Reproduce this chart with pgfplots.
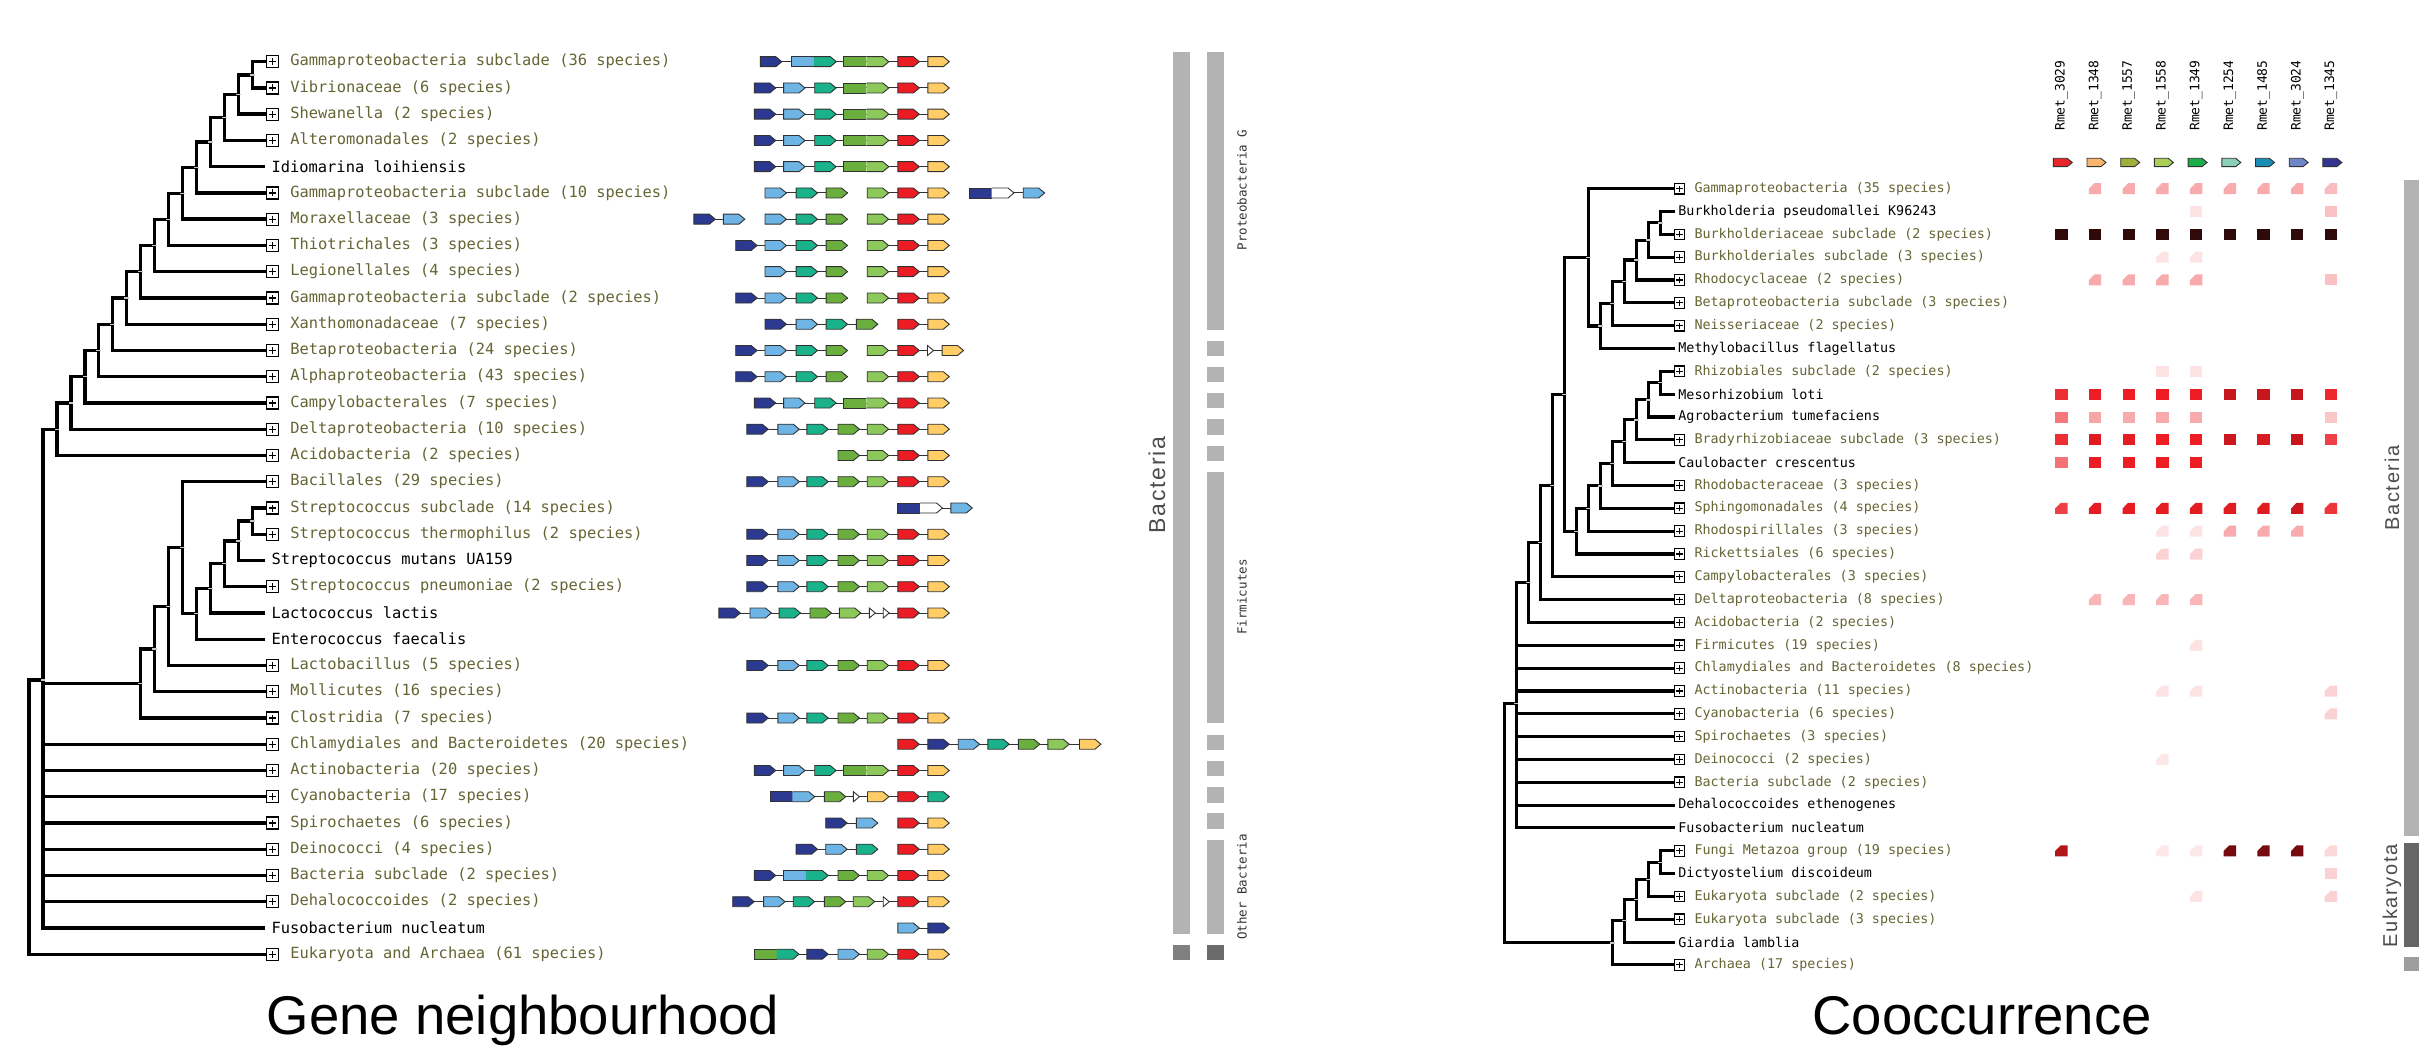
\documentclass[border=0pt]{standalone}
\usepackage{pgfplots}
\pgfplotsset{compat=1.18}
\usepackage{fontspec}
\setmainfont{Liberation Sans}
\newfontfamily\monof{DejaVu Sans Mono}
\newfontfamily\spacedsans[LetterSpace=8]{Liberation Sans}
\definecolor{cN}{RGB}{43,57,144}
\definecolor{cB}{RGB}{110,180,228}
\definecolor{cT}{RGB}{25,178,138}
\definecolor{cD}{RGB}{106,174,62}
\definecolor{cL}{RGB}{140,200,90}
\definecolor{cR}{RGB}{236,28,36}
\definecolor{cY}{RGB}{255,204,102}
\definecolor{gk}{RGB}{50,50,50}
\definecolor{olive}{RGB}{100,100,52}
\definecolor{barg}{RGB}{179,179,179}
\definecolor{h0}{RGB}{232,38,42}
\definecolor{h1}{RGB}{249,181,107}
\definecolor{h2}{RGB}{160,174,58}
\definecolor{h3}{RGB}{169,207,90}
\definecolor{h4}{RGB}{26,174,75}
\definecolor{h5}{RGB}{137,208,182}
\definecolor{h6}{RGB}{26,141,181}
\definecolor{h7}{RGB}{108,134,198}
\definecolor{h8}{RGB}{51,51,145}
% gene arrow (single)
\pgfdeclareplotmark{ga}{%
 \pgfpathmoveto{\pgfqpoint{-10.7pt}{-5pt}}\pgfpathlineto{\pgfqpoint{4.7pt}{-5pt}}%
 \pgfpathlineto{\pgfqpoint{10.7pt}{0pt}}\pgfpathlineto{\pgfqpoint{4.7pt}{5pt}}%
 \pgfpathlineto{\pgfqpoint{-10.7pt}{5pt}}\pgfpathclose\pgfusepathqfillstroke}
% double gene, left part
\pgfdeclareplotmark{gr}{%
 \pgfpathrectangle{\pgfqpoint{-11.2pt}{-5pt}}{\pgfqpoint{22.6pt}{10pt}}\pgfusepathqfill
 \pgfpathmoveto{\pgfqpoint{11.2pt}{5pt}}\pgfpathlineto{\pgfqpoint{-11.2pt}{5pt}}%
 \pgfpathlineto{\pgfqpoint{-11.2pt}{-5pt}}\pgfpathlineto{\pgfqpoint{11.2pt}{-5pt}}\pgfusepathqstroke}
% double gene, right part
\pgfdeclareplotmark{gb}{%
 \pgfpathmoveto{\pgfqpoint{-11.2pt}{-5pt}}\pgfpathlineto{\pgfqpoint{5.2pt}{-5pt}}%
 \pgfpathlineto{\pgfqpoint{11.2pt}{0pt}}\pgfpathlineto{\pgfqpoint{5.2pt}{5pt}}%
 \pgfpathlineto{\pgfqpoint{-11.2pt}{5pt}}\pgfpathclose\pgfusepathqfill
 \pgfpathmoveto{\pgfqpoint{-11.2pt}{-5pt}}\pgfpathlineto{\pgfqpoint{5.2pt}{-5pt}}%
 \pgfpathlineto{\pgfqpoint{11.2pt}{0pt}}\pgfpathlineto{\pgfqpoint{5.2pt}{5pt}}%
 \pgfpathlineto{\pgfqpoint{-11.2pt}{5pt}}\pgfusepathqstroke}
% small white triangle
\pgfdeclareplotmark{gt}{%
 \pgfpathmoveto{\pgfqpoint{-3pt}{-5pt}}\pgfpathlineto{\pgfqpoint{3pt}{0pt}}%
 \pgfpathlineto{\pgfqpoint{-3pt}{5pt}}\pgfpathclose\pgfusepathqfillstroke}
% boxed plus
\pgfdeclareplotmark{bpl}{%
 \pgfpathrectangle{\pgfqpoint{-6pt}{-6pt}}{\pgfqpoint{12pt}{12pt}}\pgfusepathqfillstroke
 \pgfpathmoveto{\pgfqpoint{-3.5pt}{0pt}}\pgfpathlineto{\pgfqpoint{3.5pt}{0pt}}%
 \pgfpathmoveto{\pgfqpoint{0pt}{-3.5pt}}\pgfpathlineto{\pgfqpoint{0pt}{3.5pt}}\pgfusepathqstroke}
\pgfdeclareplotmark{bpr}{%
 \pgfpathrectangle{\pgfqpoint{-5.3pt}{-5.3pt}}{\pgfqpoint{10.6pt}{10.6pt}}\pgfusepathqfillstroke
 \pgfpathmoveto{\pgfqpoint{-3.1pt}{0pt}}\pgfpathlineto{\pgfqpoint{3.1pt}{0pt}}%
 \pgfpathmoveto{\pgfqpoint{0pt}{-3.1pt}}\pgfpathlineto{\pgfqpoint{0pt}{3.1pt}}\pgfusepathqstroke}
% heat cells
\pgfdeclareplotmark{hs}{%
 \pgfpathrectangle{\pgfqpoint{-6.2pt}{-5.5pt}}{\pgfqpoint{12.4pt}{11pt}}\pgfusepathqfill}
\pgfdeclareplotmark{hc}{%
 \pgfpathmoveto{\pgfqpoint{-6.2pt}{-5.5pt}}\pgfpathlineto{\pgfqpoint{6.2pt}{-5.5pt}}%
 \pgfpathlineto{\pgfqpoint{6.2pt}{5.5pt}}\pgfpathlineto{\pgfqpoint{-0.6pt}{5.5pt}}%
 \pgfpathlineto{\pgfqpoint{-6.2pt}{-0.2pt}}\pgfpathclose\pgfusepathqfill}
% header arrow
\pgfdeclareplotmark{ha}{%
 \pgfpathmoveto{\pgfqpoint{-9.5pt}{-4.2pt}}\pgfpathlineto{\pgfqpoint{4.3pt}{-4.2pt}}%
 \pgfpathlineto{\pgfqpoint{9.5pt}{0pt}}\pgfpathlineto{\pgfqpoint{4.3pt}{4.2pt}}%
 \pgfpathlineto{\pgfqpoint{-9.5pt}{4.2pt}}\pgfpathclose\pgfusepathqfillstroke}

\pgfplotsset{
 genecls/.style={scatter, only marks, point meta=explicit symbolic,
  scatter/classes={
   N={draw=gk,fill=cN,line width=0.9pt},
   B={draw=gk,fill=cB,line width=0.9pt},
   T={draw=gk,fill=cT,line width=0.9pt},
   D={draw=gk,fill=cD,line width=0.9pt},
   L={draw=gk,fill=cL,line width=0.9pt},
   R={draw=gk,fill=cR,line width=0.9pt},
   Y={draw=gk,fill=cY,line width=0.9pt},
   W={draw=gk,fill=white,line width=0.9pt}}},
 heatcls/.style={scatter, only marks, point meta=explicit, point meta min=0, point meta max=7,
   scatter/use mapped color={draw=none, fill=mapped color}},
 lab/.style={draw=none, nodes near coords, point meta=explicit symbolic,
   every node near coord/.append style={anchor=west, inner sep=0pt, #1}},
}

\begin{document}
\begin{tikzpicture}
\begin{axis}[
  width=2419pt, height=1059pt, scale only axis,
  xmin=0, xmax=2419, ymin=0, ymax=1059, y dir=reverse,
  hide axis, clip=false, unbounded coords=jump,
  colormap={heat}{rgb255(0cm)=(255,255,255); rgb255(4cm)=(236,30,36); rgb255(6cm)=(105,8,12); rgb255(7cm)=(40,10,10)},
]
%================ LEFT TREE =================
\addplot[black, line width=3.4pt, line cap=rect, line join=miter] coordinates {
(266.5,61.7)(252.2,61.7)(252.2,88.0)(266.5,88.0)(nan,nan)
(252.2,74.85)(238.25,74.85)(238.25,114.2)(266.5,114.2)(nan,nan)
(238.25,94.53)(224.3,94.53)(224.3,140.5)(266.5,140.5)(nan,nan)
(224.3,117.51)(210.35,117.51)(210.35,166.7)(263.4,166.7)(nan,nan)
(210.35,142.1)(196.4,142.1)(196.4,193.0)(266.5,193.0)(nan,nan)
(196.4,167.55)(182.45,167.55)(182.45,219.2)(266.5,219.2)(nan,nan)
(182.45,193.38)(168.5,193.38)(168.5,245.5)(266.5,245.5)(nan,nan)
(168.5,219.44)(154.55,219.44)(154.55,271.7)(266.5,271.7)(nan,nan)
(154.55,245.57)(140.6,245.57)(140.6,298.0)(266.5,298.0)(nan,nan)
(140.6,271.78)(126.65,271.78)(126.65,324.2)(266.5,324.2)(nan,nan)
(126.65,297.99)(112.7,297.99)(112.7,350.5)(266.5,350.5)(nan,nan)
(112.7,324.25)(98.75,324.25)(98.75,376.7)(266.5,376.7)(nan,nan)
(98.75,350.47)(84.8,350.47)(84.8,403.0)(266.5,403.0)(nan,nan)
(84.8,376.74)(70.85,376.74)(70.85,429.2)(266.5,429.2)(nan,nan)
(70.85,402.97)(56.9,402.97)(56.9,455.5)(266.5,455.5)(nan,nan)
(266.5,508.0)(252.2,508.0)(252.2,534.2)(266.5,534.2)(nan,nan)
(252.2,521.1)(238.25,521.1)(238.25,560.5)(263.4,560.5)(nan,nan)
(238.25,540.8)(224.3,540.8)(224.3,586.7)(266.5,586.7)(nan,nan)
(224.3,563.75)(210.35,563.75)(210.35,613.0)(263.4,613.0)(nan,nan)
(210.35,588.38)(196.4,588.38)(196.4,639.2)(263.4,639.2)(nan,nan)
(266.5,481.7)(182.45,481.7)(182.45,613.79)(196.4,613.79)(nan,nan)
(182.45,547.75)(168.5,547.75)(168.5,665.5)(266.5,665.5)(nan,nan)
(168.5,606.63)(154.55,606.63)(154.55,691.7)(266.5,691.7)(nan,nan)
(154.55,649.17)(140.6,649.17)(140.6,718.0)(266.5,718.0)(nan,nan)
(56.9,429.23)(42.95,429.23)(42.95,928.0)(263.4,928.0)(nan,nan)
(42.95,683.58)(140.6,683.58)(nan,nan)
(42.95,744.2)(266.5,744.2)(nan,nan)
(42.95,770.5)(266.5,770.5)(nan,nan)
(42.95,796.7)(266.5,796.7)(nan,nan)
(42.95,823.0)(266.5,823.0)(nan,nan)
(42.95,849.2)(266.5,849.2)(nan,nan)
(42.95,875.5)(266.5,875.5)(nan,nan)
(42.95,901.7)(266.5,901.7)(nan,nan)
(42.95,680)(29.0,680)(29.0,954.2)(266.5,954.2)
};
%================ RIGHT TREE =================
\addplot[black, line width=3.1pt, line cap=rect, line join=miter] coordinates {
(1673,211.5)(1660.62,211.5)(1660.62,234.4)(1674,234.4)(nan,nan)
(1660.62,222.95)(1648.58,222.95)(1648.58,257.2)(1674,257.2)(nan,nan)
(1648.58,240.08)(1636.54,240.08)(1636.54,280.0)(1674,280.0)(nan,nan)
(1636.54,260.04)(1624.5,260.04)(1624.5,302.9)(1674,302.9)(nan,nan)
(1624.5,281.47)(1612.46,281.47)(1612.46,325.7)(1674,325.7)(nan,nan)
(1612.46,303.59)(1600.42,303.59)(1600.42,348.5)(1673,348.5)(nan,nan)
(1674,188.7)(1588.38,188.7)(1588.38,326.04)(1600.42,326.04)(nan,nan)
(1674,371.3)(1660.62,371.3)(1660.62,394.2)(1673,394.2)(nan,nan)
(1660.62,382.75)(1648.58,382.75)(1648.58,417.0)(1673,417.0)(nan,nan)
(1648.58,399.88)(1636.54,399.88)(1636.54,439.8)(1674,439.8)(nan,nan)
(1636.54,419.84)(1624.5,419.84)(1624.5,462.7)(1673,462.7)(nan,nan)
(1624.5,441.27)(1612.46,441.27)(1612.46,485.5)(1674,485.5)(nan,nan)
(1612.46,463.39)(1600.42,463.39)(1600.42,508.3)(1674,508.3)(nan,nan)
(1600.42,485.85)(1588.38,485.85)(1588.38,531.2)(1674,531.2)(nan,nan)
(1588.38,508.58)(1576.34,508.58)(1576.34,554.0)(1674,554.0)(nan,nan)
(1588.38,257.37)(1564.3,257.37)(1564.3,531.29)(1576.34,531.29)(nan,nan)
(1564.3,394.33)(1552.26,394.33)(1552.26,576.8)(1674,576.8)(nan,nan)
(1552.26,485.57)(1540.22,485.57)(1540.22,599.6)(1674,599.6)(nan,nan)
(1540.22,542.58)(1528.18,542.58)(1528.18,622.5)(1674,622.5)(nan,nan)
(1528.18,582.54)(1516.14,582.54)(1516.14,827.9)(1673,827.9)(nan,nan)
(1516.14,645.3)(1674,645.3)(nan,nan)
(1516.14,668.1)(1674,668.1)(nan,nan)
(1516.14,691.0)(1674,691.0)(nan,nan)
(1516.14,713.8)(1674,713.8)(nan,nan)
(1516.14,736.6)(1674,736.6)(nan,nan)
(1516.14,759.5)(1674,759.5)(nan,nan)
(1516.14,782.3)(1674,782.3)(nan,nan)
(1516.14,805.1)(1673,805.1)(nan,nan)
(1674,850.8)(1660.62,850.8)(1660.62,873.6)(1673,873.6)(nan,nan)
(1660.62,862.2)(1648.58,862.2)(1648.58,896.4)(1674,896.4)(nan,nan)
(1648.58,879.3)(1636.54,879.3)(1636.54,919.3)(1674,919.3)(nan,nan)
(1636.54,899.35)(1624.5,899.35)(1624.5,942.1)(1673,942.1)(nan,nan)
(1624.5,920.73)(1612.46,920.73)(1612.46,964.9)(1674,964.9)(nan,nan)
(1516.14,703.3)(1504.1,703.3)(1504.1,942.8)(1612.46,942.8)
};
% node dashes
\addplot[only marks, mark=-, mark size=2.3pt, color=gray!45, line width=1.4pt] coordinates {
(252.2,74.85)(238.25,94.53)(224.3,117.51)(210.35,142.1)(196.4,167.55)(182.45,193.38)(168.5,219.44)
(154.55,245.57)(140.6,271.78)(126.65,297.99)(112.7,324.25)(98.75,350.47)(84.8,376.74)(70.85,402.97)
(56.9,429.23)(252.2,521.1)(238.25,540.8)(224.3,563.75)(210.35,588.38)(196.4,613.79)(182.45,547.75)
(168.5,606.63)(154.55,649.17)(140.6,683.58)(42.95,680)
(1660.62,222.95)(1648.58,240.08)(1636.54,260.04)(1624.5,281.47)(1612.46,303.59)(1600.42,326.04)
(1588.38,257.37)(1660.62,382.75)(1648.58,399.88)(1636.54,419.84)(1624.5,441.27)(1612.46,463.39)
(1600.42,485.85)(1588.38,508.58)(1576.34,531.29)(1564.3,394.33)(1552.26,485.57)(1540.22,542.58)
(1528.18,582.54)(1516.14,703.3)(1660.62,862.2)(1648.58,879.3)(1636.54,899.35)(1624.5,920.73)(1612.46,942.8)
};
% boxes
\addplot[only marks, mark=bpl, mark options={draw=black, fill=white, line width=1.2pt}] coordinates {
(272.8,61.7)(272.8,88.0)(272.8,114.2)(272.8,140.5)(272.8,193.0)(272.8,219.2)(272.8,245.5)(272.8,271.7)
(272.8,298.0)(272.8,324.2)(272.8,350.5)(272.8,376.7)(272.8,403.0)(272.8,429.2)(272.8,455.5)(272.8,481.7)
(272.8,508.0)(272.8,534.2)(272.8,586.7)(272.8,665.5)(272.8,691.7)(272.8,718.0)(272.8,744.2)(272.8,770.5)
(272.8,796.7)(272.8,823.0)(272.8,849.2)(272.8,875.5)(272.8,901.7)(272.8,954.2)
};
\addplot[only marks, mark=bpr, mark options={draw=black, fill=white, line width=1.1pt}] coordinates {
(1679.4,188.7)(1679.4,234.4)(1679.4,257.2)(1679.4,280.0)(1679.4,302.9)(1679.4,325.7)(1679.4,371.3)
(1679.4,439.8)(1679.4,485.5)(1679.4,508.3)(1679.4,531.2)(1679.4,554.0)(1679.4,576.8)(1679.4,599.6)
(1679.4,622.5)(1679.4,645.3)(1679.4,668.1)(1679.4,691.0)(1679.4,713.8)(1679.4,736.6)(1679.4,759.5)
(1679.4,782.3)(1679.4,850.8)(1679.4,896.4)(1679.4,919.3)(1679.4,964.9)
};
%================ LEFT LABELS =================
\addplot[lab={font=\monof\fontsize{15.4}{17}\selectfont, text=olive}] table[row sep=\\, col sep=comma, x=x, y=y, meta=l] {
x,y,l\\
290.2,61.7,Gammaproteobacteria subclade (36 species)\\
290.2,88.0,Vibrionaceae (6 species)\\
290.2,114.2,Shewanella (2 species)\\
290.2,140.5,Alteromonadales (2 species)\\
290.2,193.0,Gammaproteobacteria subclade (10 species)\\
290.2,219.2,Moraxellaceae (3 species)\\
290.2,245.5,Thiotrichales (3 species)\\
290.2,271.7,Legionellales (4 species)\\
290.2,298.0,Gammaproteobacteria subclade (2 species)\\
290.2,324.2,Xanthomonadaceae (7 species)\\
290.2,350.5,Betaproteobacteria (24 species)\\
290.2,376.7,Alphaproteobacteria (43 species)\\
290.2,403.0,Campylobacterales (7 species)\\
290.2,429.2,Deltaproteobacteria (10 species)\\
290.2,455.5,Acidobacteria (2 species)\\
290.2,481.7,Bacillales (29 species)\\
290.2,508.0,Streptococcus subclade (14 species)\\
290.2,534.2,Streptococcus thermophilus (2 species)\\
290.2,586.7,Streptococcus pneumoniae (2 species)\\
290.2,665.5,Lactobacillus (5 species)\\
290.2,691.7,Mollicutes (16 species)\\
290.2,718.0,Clostridia (7 species)\\
290.2,744.2,Chlamydiales and Bacteroidetes (20 species)\\
290.2,770.5,Actinobacteria (20 species)\\
290.2,796.7,Cyanobacteria (17 species)\\
290.2,823.0,Spirochaetes (6 species)\\
290.2,849.2,Deinococci (4 species)\\
290.2,875.5,Bacteria subclade (2 species)\\
290.2,901.7,Dehalococcoides (2 species)\\
290.2,954.2,Eukaryota and Archaea (61 species)\\
};
\addplot[lab={font=\monof\fontsize{15.4}{17}\selectfont, text=black}] table[row sep=\\, col sep=comma, x=x, y=y, meta=l] {
x,y,l\\
271.4,166.7,Idiomarina loihiensis\\
271.4,560.5,Streptococcus mutans UA159\\
271.4,613.0,Lactococcus lactis\\
271.4,639.2,Enterococcus faecalis\\
271.4,928.0,Fusobacterium nucleatum\\
};
%================ RIGHT LABELS =================
\addplot[lab={font=\monof\fontsize{13.4}{15}\selectfont, text=olive}] table[row sep=\\, col sep=comma, x=x, y=y, meta=l] {
x,y,l\\
1694.3,188.7,Gammaproteobacteria (35 species)\\
1694.3,234.4,Burkholderiaceae subclade (2 species)\\
1694.3,257.2,Burkholderiales subclade (3 species)\\
1694.3,280.0,Rhodocyclaceae (2 species)\\
1694.3,302.9,Betaproteobacteria subclade (3 species)\\
1694.3,325.7,Neisseriaceae (2 species)\\
1694.3,371.3,Rhizobiales subclade (2 species)\\
1694.3,439.8,Bradyrhizobiaceae subclade (3 species)\\
1694.3,485.5,Rhodobacteraceae (3 species)\\
1694.3,508.3,Sphingomonadales (4 species)\\
1694.3,531.2,Rhodospirillales (3 species)\\
1694.3,554.0,Rickettsiales (6 species)\\
1694.3,576.8,Campylobacterales (3 species)\\
1694.3,599.6,Deltaproteobacteria (8 species)\\
1694.3,622.5,Acidobacteria (2 species)\\
1694.3,645.3,Firmicutes (19 species)\\
1694.3,668.1,Chlamydiales and Bacteroidetes (8 species)\\
1694.3,691.0,Actinobacteria (11 species)\\
1694.3,713.8,Cyanobacteria (6 species)\\
1694.3,736.6,Spirochaetes (3 species)\\
1694.3,759.5,Deinococci (2 species)\\
1694.3,782.3,Bacteria subclade (2 species)\\
1694.3,850.8,Fungi Metazoa group (19 species)\\
1694.3,896.4,Eukaryota subclade (2 species)\\
1694.3,919.3,Eukaryota subclade (3 species)\\
1694.3,964.9,Archaea (17 species)\\
};
\addplot[lab={font=\monof\fontsize{13.4}{15}\selectfont, text=black}] table[row sep=\\, col sep=comma, x=x, y=y, meta=l] {
x,y,l\\
1678.2,211.5,Burkholderia pseudomallei K96243\\
1678.2,348.5,Methylobacillus flagellatus\\
1678.2,394.2,Mesorhizobium loti\\
1678.2,417.0,Agrobacterium tumefaciens\\
1678.2,462.7,Caulobacter crescentus\\
1678.2,805.1,Dehalococcoides ethenogenes\\
1678.2,827.9,Fusobacterium nucleatum\\
1678.2,873.6,Dictyostelium discoideum\\
1678.2,942.1,Giardia lamblia\\
};
%================ GENE BACKBONES =================
\addplot[gk, line width=1pt] coordinates {
(760.4,61.7)(949.3,61.7)(nan,nan)
(754.3,88.0)(949.3,88.0)(nan,nan)
(754.3,114.2)(949.3,114.2)(nan,nan)
(754.3,140.5)(949.3,140.5)(nan,nan)
(754.3,166.7)(949.3,166.7)(nan,nan)
(765,193.0)(847.5,193.0)(nan,nan)(867.2,193.0)(949.3,193.0)(nan,nan)(969.3,193.0)(1044.6,193.0)(nan,nan)
(693.9,219.2)(744.8,219.2)(nan,nan)(765,219.2)(847.5,219.2)(nan,nan)(867.2,219.2)(949.3,219.2)(nan,nan)
(735.7,245.5)(847.5,245.5)(nan,nan)(867.2,245.5)(949.3,245.5)(nan,nan)
(765,271.7)(847.5,271.7)(nan,nan)(867.2,271.7)(949.3,271.7)(nan,nan)
(735.7,298.0)(847.5,298.0)(nan,nan)(867.2,298.0)(949.3,298.0)(nan,nan)
(765,324.2)(877.8,324.2)(nan,nan)(897.9,324.2)(949.3,324.2)(nan,nan)
(735.7,350.5)(847.5,350.5)(nan,nan)(867.2,350.5)(963.5,350.5)(nan,nan)
(735.7,376.7)(847.5,376.7)(nan,nan)(867.2,376.7)(949.3,376.7)(nan,nan)
(754.3,403.0)(949.3,403.0)(nan,nan)
(746.8,429.2)(949.3,429.2)(nan,nan)
(838,455.5)(949.3,455.5)(nan,nan)
(746.8,481.7)(949.3,481.7)(nan,nan)
(897.8,508.0)(972.3,508.0)(nan,nan)
(746.8,534.2)(949.3,534.2)(nan,nan)
(746.8,560.5)(949.3,560.5)(nan,nan)
(746.8,586.7)(949.3,586.7)(nan,nan)
(718.9,613.0)(949.3,613.0)(nan,nan)
(746.8,665.5)(949.3,665.5)(nan,nan)
(746.8,718.0)(949.3,718.0)(nan,nan)
(897.9,744.2)(1100.9,744.2)(nan,nan)
(754.3,770.5)(949.3,770.5)(nan,nan)
(770,796.7)(949.3,796.7)(nan,nan)
(825.7,823.0)(877.8,823.0)(nan,nan)(897.9,823.0)(949.3,823.0)(nan,nan)
(796.1,849.2)(877.8,849.2)(nan,nan)(897.9,849.2)(949.3,849.2)(nan,nan)
(754.3,875.5)(949.3,875.5)(nan,nan)
(732.7,901.7)(949.3,901.7)(nan,nan)
(897.9,928.0)(949.3,928.0)(nan,nan)
(754.3,954.2)(949.3,954.2)
};
%================ GENES =================
\addplot[genecls, mark=ga] table[row sep=\\, col sep=comma, x=x, y=y, meta=c] {
x,y,c\\
771.1,61.7,N\\908.6,61.7,R\\938.6,61.7,Y\\
765,88.0,N\\794.3,88.0,B\\825.4,88.0,T\\908.6,88.0,R\\938.6,88.0,Y\\
765,114.2,N\\794.3,114.2,B\\825.4,114.2,T\\908.6,114.2,R\\938.6,114.2,Y\\
765,140.5,N\\794.3,140.5,B\\825.4,140.5,T\\908.6,140.5,R\\938.6,140.5,Y\\
765,166.7,N\\794.3,166.7,B\\825.4,166.7,T\\908.6,166.7,R\\938.6,166.7,Y\\
775.7,193.0,B\\806.8,193.0,T\\836.8,193.0,D\\877.9,193.0,L\\908.6,193.0,R\\938.6,193.0,Y\\1033.9,193.0,B\\
704.6,219.2,N\\734.1,219.2,B\\775.7,219.2,B\\806.8,219.2,T\\836.8,219.2,D\\877.9,219.2,L\\908.6,219.2,R\\938.6,219.2,Y\\
746.4,245.5,N\\775.7,245.5,B\\806.8,245.5,T\\836.8,245.5,D\\877.9,245.5,L\\908.6,245.5,R\\938.6,245.5,Y\\
775.7,271.7,B\\806.8,271.7,T\\836.8,271.7,D\\877.9,271.7,L\\908.6,271.7,R\\938.6,271.7,Y\\
746.4,298.0,N\\775.7,298.0,B\\806.8,298.0,T\\836.8,298.0,D\\877.9,298.0,L\\908.6,298.0,R\\938.6,298.0,Y\\
775.7,324.2,N\\806.8,324.2,B\\836.8,324.2,T\\867.1,324.2,D\\908.6,324.2,R\\938.6,324.2,Y\\
746.4,350.5,N\\775.7,350.5,B\\806.8,350.5,T\\836.8,350.5,D\\877.9,350.5,L\\908.6,350.5,R\\952.8,350.5,Y\\
746.4,376.7,N\\775.7,376.7,B\\806.8,376.7,T\\836.8,376.7,D\\877.9,376.7,L\\908.6,376.7,R\\938.6,376.7,Y\\
765,403.0,N\\794.3,403.0,B\\825.4,403.0,T\\908.6,403.0,R\\938.6,403.0,Y\\
757.5,429.2,N\\788.6,429.2,B\\817.5,429.2,T\\848.7,429.2,D\\877.9,429.2,L\\908.6,429.2,R\\938.6,429.2,Y\\
848.7,455.5,D\\877.9,455.5,L\\908.6,455.5,R\\938.6,455.5,Y\\
757.5,481.7,N\\788.6,481.7,B\\817.5,481.7,T\\848.7,481.7,D\\877.9,481.7,L\\908.6,481.7,R\\938.6,481.7,Y\\
961.6,508.0,B\\
757.5,534.2,N\\788.6,534.2,B\\817.5,534.2,T\\848.7,534.2,D\\877.9,534.2,L\\908.6,534.2,R\\938.6,534.2,Y\\
757.5,560.5,N\\788.6,560.5,B\\817.5,560.5,T\\848.7,560.5,D\\877.9,560.5,L\\908.6,560.5,R\\938.6,560.5,Y\\
757.5,586.7,N\\788.6,586.7,B\\817.5,586.7,T\\848.7,586.7,D\\877.9,586.7,L\\908.6,586.7,R\\938.6,586.7,Y\\
729.6,613.0,N\\760.7,613.0,B\\789.8,613.0,T\\820.7,613.0,D\\850,613.0,L\\908.6,613.0,R\\938.6,613.0,Y\\
757.5,665.5,N\\788.6,665.5,B\\817.5,665.5,T\\848.7,665.5,D\\877.9,665.5,L\\908.6,665.5,R\\938.6,665.5,Y\\
757.5,718.0,N\\788.6,718.0,B\\817.5,718.0,T\\848.7,718.0,D\\877.9,718.0,L\\908.6,718.0,R\\938.6,718.0,Y\\
908.6,744.2,R\\938.6,744.2,N\\968.9,744.2,B\\998.5,744.2,T\\1029.1,744.2,D\\1058.5,744.2,L\\1090.2,744.2,Y\\
765,770.5,N\\794.3,770.5,B\\825.4,770.5,T\\908.6,770.5,R\\938.6,770.5,Y\\
835,796.7,D\\878.2,796.7,Y\\908.6,796.7,R\\938.6,796.7,T\\
836.4,823.0,N\\867.1,823.0,B\\908.6,823.0,R\\938.6,823.0,Y\\
806.8,849.2,N\\836.4,849.2,B\\867.1,849.2,T\\908.6,849.2,R\\938.6,849.2,Y\\
765,875.5,N\\848.7,875.5,D\\877.9,875.5,L\\908.6,875.5,R\\938.6,875.5,Y\\
743.4,901.7,N\\774.3,901.7,B\\803.9,901.7,T\\835,901.7,D\\863.9,901.7,L\\908.6,901.7,R\\938.6,901.7,Y\\
908.6,928.0,B\\938.6,928.0,N\\
817.5,954.2,N\\848.7,954.2,B\\877.9,954.2,L\\908.6,954.2,R\\938.6,954.2,Y\\
};
\addplot[genecls, mark=gr] table[row sep=\\, col sep=comma, x=x, y=y, meta=c] {
x,y,c\\
802.6,61.7,B\\854.9,61.7,D\\
854.9,88.0,D\\854.9,114.2,D\\854.9,140.5,D\\854.9,166.7,D\\854.9,403.0,D\\854.9,770.5,D\\
980.5,193.0,N\\909,508.0,N\\781.2,796.7,N\\794.7,875.5,B\\765.5,954.2,D\\
};
\addplot[genecls, mark=gb] table[row sep=\\, col sep=comma, x=x, y=y, meta=c] {
x,y,c\\
825.1,61.7,T\\877.6,61.7,L\\
877.6,88.0,L\\877.6,114.2,L\\877.6,140.5,L\\877.6,166.7,L\\877.6,403.0,L\\877.6,770.5,L\\
1002.8,193.0,W\\931.3,508.0,W\\803.5,796.7,B\\817,875.5,T\\787.8,954.2,T\\
};
\addplot[genecls, mark=gt] table[row sep=\\, col sep=comma, x=x, y=y, meta=c] {
x,y,c\\
930.5,350.5,W\\872.3,613.0,W\\886.2,613.0,W\\856.4,796.7,W\\886.2,901.7,W\\
};
%================ LEFT BARS =================
\addplot[barg, line width=17.2pt] coordinates {(1181.4,51.7)(1181.4,934)};
\addplot[black!50, line width=17.2pt] coordinates {(1181.4,945)(1181.4,960)};
\addplot[barg, line width=16.8pt] coordinates {
(1215.3,51.7)(1215.3,330)(nan,nan)(1215.3,340.7)(1215.3,356)(nan,nan)(1215.3,367.3)(1215.3,382.3)(nan,nan)
(1215.3,393.3)(1215.3,408.3)(nan,nan)(1215.3,419.3)(1215.3,435)(nan,nan)(1215.3,446)(1215.3,461)(nan,nan)
(1215.3,472.3)(1215.3,723.3)(nan,nan)(1215.3,735)(1215.3,750)(nan,nan)(1215.3,761)(1215.3,776)(nan,nan)
(1215.3,787.3)(1215.3,802.7)(nan,nan)(1215.3,813.3)(1215.3,829)(nan,nan)(1215.3,840)(1215.3,934)
};
\addplot[black!58, line width=16.8pt] coordinates {(1215.3,945)(1215.3,960)};
%================ RIGHT BARS =================
\addplot[barg, line width=14.7pt] coordinates {(2411.7,180)(2411.7,836)};
\addplot[black!60, line width=14.7pt] coordinates {(2411.7,843)(2411.7,947)};
\addplot[black!38, line width=14.7pt] coordinates {(2411.7,957)(2411.7,971)};
%================ HEADER ARROWS =================
\addplot[scatter, only marks, mark=ha, point meta=explicit symbolic,
  scatter/classes={
   a={draw=gk,fill=h0,line width=0.9pt}, b={draw=gk,fill=h1,line width=0.9pt},
   c={draw=gk,fill=h2,line width=0.9pt}, d={draw=gk,fill=h3,line width=0.9pt},
   e={draw=gk,fill=h4,line width=0.9pt}, f={draw=gk,fill=h5,line width=0.9pt},
   g={draw=gk,fill=h6,line width=0.9pt}, h={draw=gk,fill=h7,line width=0.9pt},
   i={draw=gk,fill=h8,line width=0.9pt}}]
 table[row sep=\\, col sep=comma, x=x, y=y, meta=c] {
x,y,c\\
2062.8,162.5,a\\2096.5,162.5,b\\2130.2,162.5,c\\2163.9,162.5,d\\2197.6,162.5,e\\
2231.3,162.5,f\\2265.0,162.5,g\\2298.7,162.5,h\\2332.4,162.5,i\\
};
\addplot[lab={font=\monof\fontsize{13}{14}\selectfont, text=black, rotate=90}] table[row sep=\\, col sep=comma, x=x, y=y, meta=l] {
x,y,l\\
2061.3,131,Rmet\_3029\\2095.0,131,Rmet\_1348\\2128.7,131,Rmet\_1557\\2162.4,131,Rmet\_1558\\
2196.1,131,Rmet\_1349\\2229.8,131,Rmet\_1254\\2263.5,131,Rmet\_1485\\2297.2,131,Rmet\_3024\\
2330.9,131,Rmet\_1345\\
};
%================ HEAT CELLS =================
\addplot[heatcls, mark=hs] table[row sep=\\, col sep=comma, x=x, y=y, meta=v] {
x,y,v\\
2196.1,211.5,0.5\\2330.9,211.5,1.1\\
2061.3,234.4,6.9\\2095.0,234.4,6.9\\2128.7,234.4,6.9\\2162.4,234.4,6.9\\2196.1,234.4,6.9\\2229.8,234.4,6.9\\2263.5,234.4,6.9\\2297.2,234.4,6.9\\2330.9,234.4,6.9\\
2330.9,280.0,1.1\\
2162.4,371.3,0.5\\2196.1,371.3,0.5\\
2061.3,394.2,3.7\\2095.0,394.2,4.0\\2128.7,394.2,4.0\\2162.4,394.2,4.0\\2196.1,394.2,4.0\\2229.8,394.2,4.6\\2263.5,394.2,4.6\\2297.2,394.2,4.6\\2330.9,394.2,3.8\\
2061.3,417.0,2.4\\2095.0,417.0,1.6\\2128.7,417.0,1.5\\2162.4,417.0,1.5\\2196.1,417.0,1.5\\2330.9,417.0,1.0\\
2061.3,439.8,3.7\\2095.0,439.8,4.2\\2128.7,439.8,4.1\\2162.4,439.8,4.0\\2196.1,439.8,4.0\\2229.8,439.8,4.5\\2263.5,439.8,4.3\\2297.2,439.8,4.6\\2330.9,439.8,3.4\\
2061.3,462.7,2.5\\2095.0,462.7,4.0\\2128.7,462.7,4.0\\2162.4,462.7,4.0\\2196.1,462.7,4.0\\
2330.9,873.6,0.8\\
};
\addplot[heatcls, mark=hc] table[row sep=\\, col sep=comma, x=x, y=y, meta=v] {
x,y,v\\
2095.0,188.7,1.5\\2128.7,188.7,1.5\\2162.4,188.7,1.5\\2196.1,188.7,1.5\\2229.8,188.7,1.5\\2263.5,188.7,1.5\\2297.2,188.7,1.5\\2330.9,188.7,1.2\\
2162.4,257.2,0.5\\2196.1,257.2,0.5\\
2095.0,280.0,1.5\\2128.7,280.0,1.5\\2162.4,280.0,1.5\\2196.1,280.0,1.5\\
2061.3,508.3,3.4\\2095.0,508.3,4.1\\2128.7,508.3,4.1\\2162.4,508.3,4.1\\2196.1,508.3,4.1\\2229.8,508.3,4.2\\2263.5,508.3,4.2\\2297.2,508.3,4.5\\2330.9,508.3,3.6\\
2162.4,531.2,0.5\\2196.1,531.2,0.5\\2229.8,531.2,1.5\\2263.5,531.2,1.5\\2297.2,531.2,1.5\\
2162.4,554.0,0.8\\2196.1,554.0,0.8\\
2095.0,599.6,1.3\\2128.7,599.6,1.3\\2162.4,599.6,1.3\\2196.1,599.6,1.3\\
2196.1,645.3,0.5\\
2162.4,691.0,0.5\\2196.1,691.0,0.5\\2330.9,691.0,0.8\\
2330.9,713.8,0.8\\
2162.4,759.5,0.4\\
2061.3,850.8,4.9\\2162.4,850.8,0.4\\2196.1,850.8,0.4\\2229.8,850.8,5.8\\2263.5,850.8,5.8\\2297.2,850.8,5.8\\2330.9,850.8,0.7\\
2196.1,896.4,0.5\\2330.9,896.4,0.8\\
};
%================ TEXT =================
\node[rotate=90, font=\spacedsans\fontsize{23}{26}\selectfont, text=black!70] at (axis cs:1157,485) {Bacteria};
\node[rotate=90, font=\monof\fontsize{12.5}{14}\selectfont, text=black!80] at (axis cs:1242,190) {Proteobacteria G};
\node[rotate=90, font=\monof\fontsize{12.5}{14}\selectfont, text=black!80] at (axis cs:1242,597) {Firmicutes};
\node[rotate=90, font=\monof\fontsize{12.5}{14}\selectfont, text=black!80] at (axis cs:1242,887) {Other Bacteria};
\node[rotate=90, font=\spacedsans\fontsize{20}{22}\selectfont, text=black!70] at (axis cs:2392,488) {Bacteria};
\node[rotate=90, font=\spacedsans\fontsize{20}{22}\selectfont, text=black!70] at (axis cs:2392,896) {Eukaryota};
\node[anchor=base, font=\fontsize{54.5}{60}\selectfont] at (axis cs:523,1034) {Gene neighbourhood};
\node[anchor=base, font=\fontsize{54.5}{60}\selectfont] at (axis cs:1982,1034) {Cooccurrence};
\end{axis}
\pgfresetboundingbox
\path (current axis.south west) rectangle (current axis.north east);
\end{tikzpicture}
\end{document}
